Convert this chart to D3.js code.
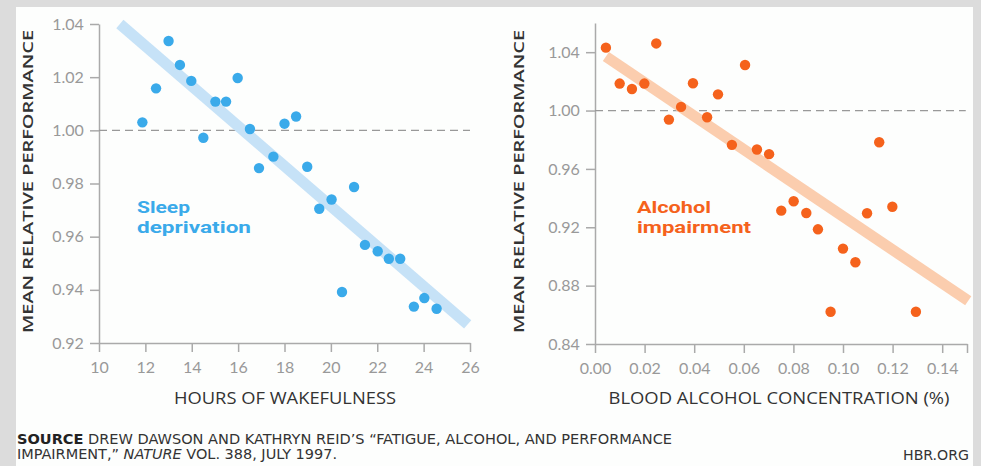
<!DOCTYPE html>
<html><head><meta charset="utf-8">
<script src="https://cdn.jsdelivr.net/npm/d3@7"></script>
<style>
html,body{margin:0;padding:0;background:#dcdcdc;}
svg{display:block;}
</style></head>
<body>
<svg id="chart" width="981" height="466"></svg>
<script>
// ---- data ----
const sleepHours = [11.87,12.46,13.0,13.49,13.98,14.5,15.02,15.48,15.98,16.51,16.9,17.52,18.0,18.5,18.98,19.5,20.03,20.48,21.0,21.47,22.02,22.5,22.99,23.58,24.03,24.56];
const sleepPerf  = [1.003,1.0158,1.0336,1.0246,1.0186,0.9972,1.0108,1.0108,1.0197,1.0005,0.9858,0.9901,1.0025,1.0052,0.9863,0.9705,0.974,0.9392,0.9787,0.9569,0.9545,0.9517,0.9517,0.9337,0.9369,0.9329];
const sleepFitX = [10.9, 25.9];
const sleepFitY = [1.040, 0.927];
const sleepXTicks = [10,12,14,16,18,20,22,24,26];
const sleepYTicks = [0.92,0.94,0.96,0.98,1.00,1.02,1.04];

const alcConc = [0.0044,0.00995,0.0149,0.0199,0.0247,0.0298,0.0347,0.0395,0.0452,0.0496,0.0552,0.0605,0.0653,0.0702,0.0751,0.0801,0.0852,0.0899,0.095,0.1,0.105,0.1097,0.1146,0.1199,0.1294];
const alcPerf = [1.0431,1.0185,1.0148,1.0185,1.046,0.9938,1.0025,1.0187,0.9954,1.0111,0.9765,1.0312,0.9733,0.9701,0.9314,0.9378,0.9298,0.9186,0.8621,0.9054,0.896,0.9296,0.9783,0.9341,0.8621];
const alcFitX = [0.0044, 0.1505];
const alcFitY = [1.037, 0.8696];
const alcXTicks = [0,0.02,0.04,0.06,0.08,0.10,0.12,0.14];
const alcYTicks = [0.84,0.88,0.92,0.96,1.00,1.04];

const svg = d3.select("#chart");
svg.append("rect").attr("x",16).attr("y",7).attr("width",957).attr("height",470).attr("fill","#fdfefd");

const tickFont = "Lato, 'Open Sans', sans-serif";
const titleFont = "'Open Sans', Lato, sans-serif";

function panel(o){
  const x = d3.scaleLinear().domain(o.xDomain).range([o.left, o.right]);
  const y = d3.scaleLinear().domain(o.yDomain).range([o.bottom, o.top]);
  const g = svg.append("g");
  const axisCol = "#aaaaaa";
  const xa = g.append("g").attr("transform",`translate(0,${o.bottom})`)
    .call(d3.axisBottom(x).tickValues(o.xTicks.concat(o.extraXTick||[])).tickSize(9).tickSizeOuter(0).tickFormat(d=> o.xTicks.includes(d)? o.xFmt(d):""));
  const ya = g.append("g").attr("transform",`translate(${o.left},0)`)
    .call(d3.axisLeft(y).tickValues(o.yTicks).tickSize(9).tickSizeOuter(0).tickFormat(d3.format(".2f")));
  [xa,ya].forEach(a=>{
    a.select(".domain").attr("stroke",axisCol).attr("stroke-width",1.5);
    a.selectAll(".tick line").attr("stroke",axisCol).attr("stroke-width",1.5);
    a.selectAll("text").attr("fill","#999").attr("font-family",tickFont).attr("font-size",16);
  });
  xa.selectAll("text").attr("dy","1.1em");
  ya.selectAll("text").attr("dx","-0.2em");
  g.append("line").attr("x1",x(o.xDomain[0])).attr("x2",x(o.dashEnd))
    .attr("y1",y(1)).attr("y2",y(1)).attr("stroke","#999").attr("stroke-width",1.3).attr("stroke-dasharray","8,5");
  g.append("line").attr("x1",x(o.fitX[0])).attr("y1",y(o.fitY[0])).attr("x2",x(o.fitX[1])).attr("y2",y(o.fitY[1]))
    .attr("stroke",o.fitCol).attr("stroke-width",11);
  g.selectAll("circle.d").data(o.xs.map((v,i)=>[v,o.ys[i]])).join("circle")
    .attr("cx",d=>x(d[0])).attr("cy",d=>y(d[1])).attr("r",5.2).attr("fill",o.dotCol);
  o.lab.forEach((t,i)=>{
    g.append("text").attr("x",o.labX).attr("y",213+i*20).attr("fill",o.dotCol)
      .attr("font-family","Roboto, sans-serif").attr("font-weight",700).attr("font-size",17)
      .attr("textLength",o.labW[i]).attr("lengthAdjust","spacingAndGlyphs").text(t);
  });
  g.append("text").attr("transform",`translate(${o.ytX},${(o.top+o.bottom)/2 - 2}) rotate(-90)`)
    .attr("text-anchor","middle").attr("dominant-baseline","central").attr("fill","#333")
    .attr("font-family",titleFont).attr("font-size",14.5).attr("font-weight",600)
    .attr("textLength",303).attr("lengthAdjust","spacingAndGlyphs")
    .text("MEAN RELATIVE PERFORMANCE");
  g.append("text").attr("x",o.xtX).attr("y",404).attr("text-anchor","middle").attr("fill","#333")
    .attr("font-family",titleFont).attr("font-size",15.5)
    .attr("textLength",o.xtLen).attr("lengthAdjust","spacingAndGlyphs")
    .text(o.xTitle);
}

panel({xDomain:[10,26], yDomain:[0.92,1.04], left:99, right:470, top:24, bottom:343,
  xTicks:sleepXTicks, yTicks:sleepYTicks, xFmt:d3.format("d"), dashEnd:26,
  fitX:sleepFitX, fitY:sleepFitY, fitCol:"#c6e2f7", dotCol:"#3aaaea",
  xs:sleepHours, ys:sleepPerf, labX:137, lab:["Sleep","deprivation"], labW:[53,114],
  ytX:27, xtX:285, xtLen:222, xTitle:"HOURS OF WAKEFULNESS"});

panel({xDomain:[0,0.15], yDomain:[0.84,1.06], left:595, right:967, top:23, bottom:344,
  xTicks:alcXTicks, extraXTick:[0.15], yTicks:alcYTicks, xFmt:d3.format(".2f"), dashEnd:0.1495,
  fitX:alcFitX, fitY:alcFitY, fitCol:"#fbcdae", dotCol:"#f5621c",
  xs:alcConc, ys:alcPerf, labX:637, lab:["Alcohol","impairment"], labW:[74,114],
  ytX:518, xtX:779, xtLen:341, xTitle:"BLOOD ALCOHOL CONCENTRATION (%)"});

// source
const srcFont = "'Liberation Sans Narrow','DejaVu Sans Condensed',sans-serif";
const s1 = svg.append("text").attr("x",17).attr("y",444).attr("fill","#333").attr("font-family",srcFont).attr("font-size",13.5)
  .attr("textLength",655).attr("lengthAdjust","spacingAndGlyphs");
s1.append("tspan").attr("font-weight",700).attr("fill","#222").text("SOURCE");
s1.append("tspan").text(" DREW DAWSON AND KATHRYN REID’S “FATIGUE, ALCOHOL, AND PERFORMANCE");
const s2 = svg.append("text").attr("x",17).attr("y",459).attr("fill","#333").attr("font-family",srcFont).attr("font-size",13.5)
  .attr("textLength",320).attr("lengthAdjust","spacingAndGlyphs");
s2.append("tspan").text("IMPAIRMENT,” ");
s2.append("tspan").attr("font-style","italic").text("NATURE");
s2.append("tspan").text(" VOL. 388, JULY 1997.");
svg.append("text").attr("x",969).attr("y",460).attr("text-anchor","end").attr("fill","#333").attr("font-family",srcFont).attr("font-size",13.5)
  .attr("textLength",66).attr("lengthAdjust","spacingAndGlyphs").text("HBR.ORG");
</script>
</body></html>
